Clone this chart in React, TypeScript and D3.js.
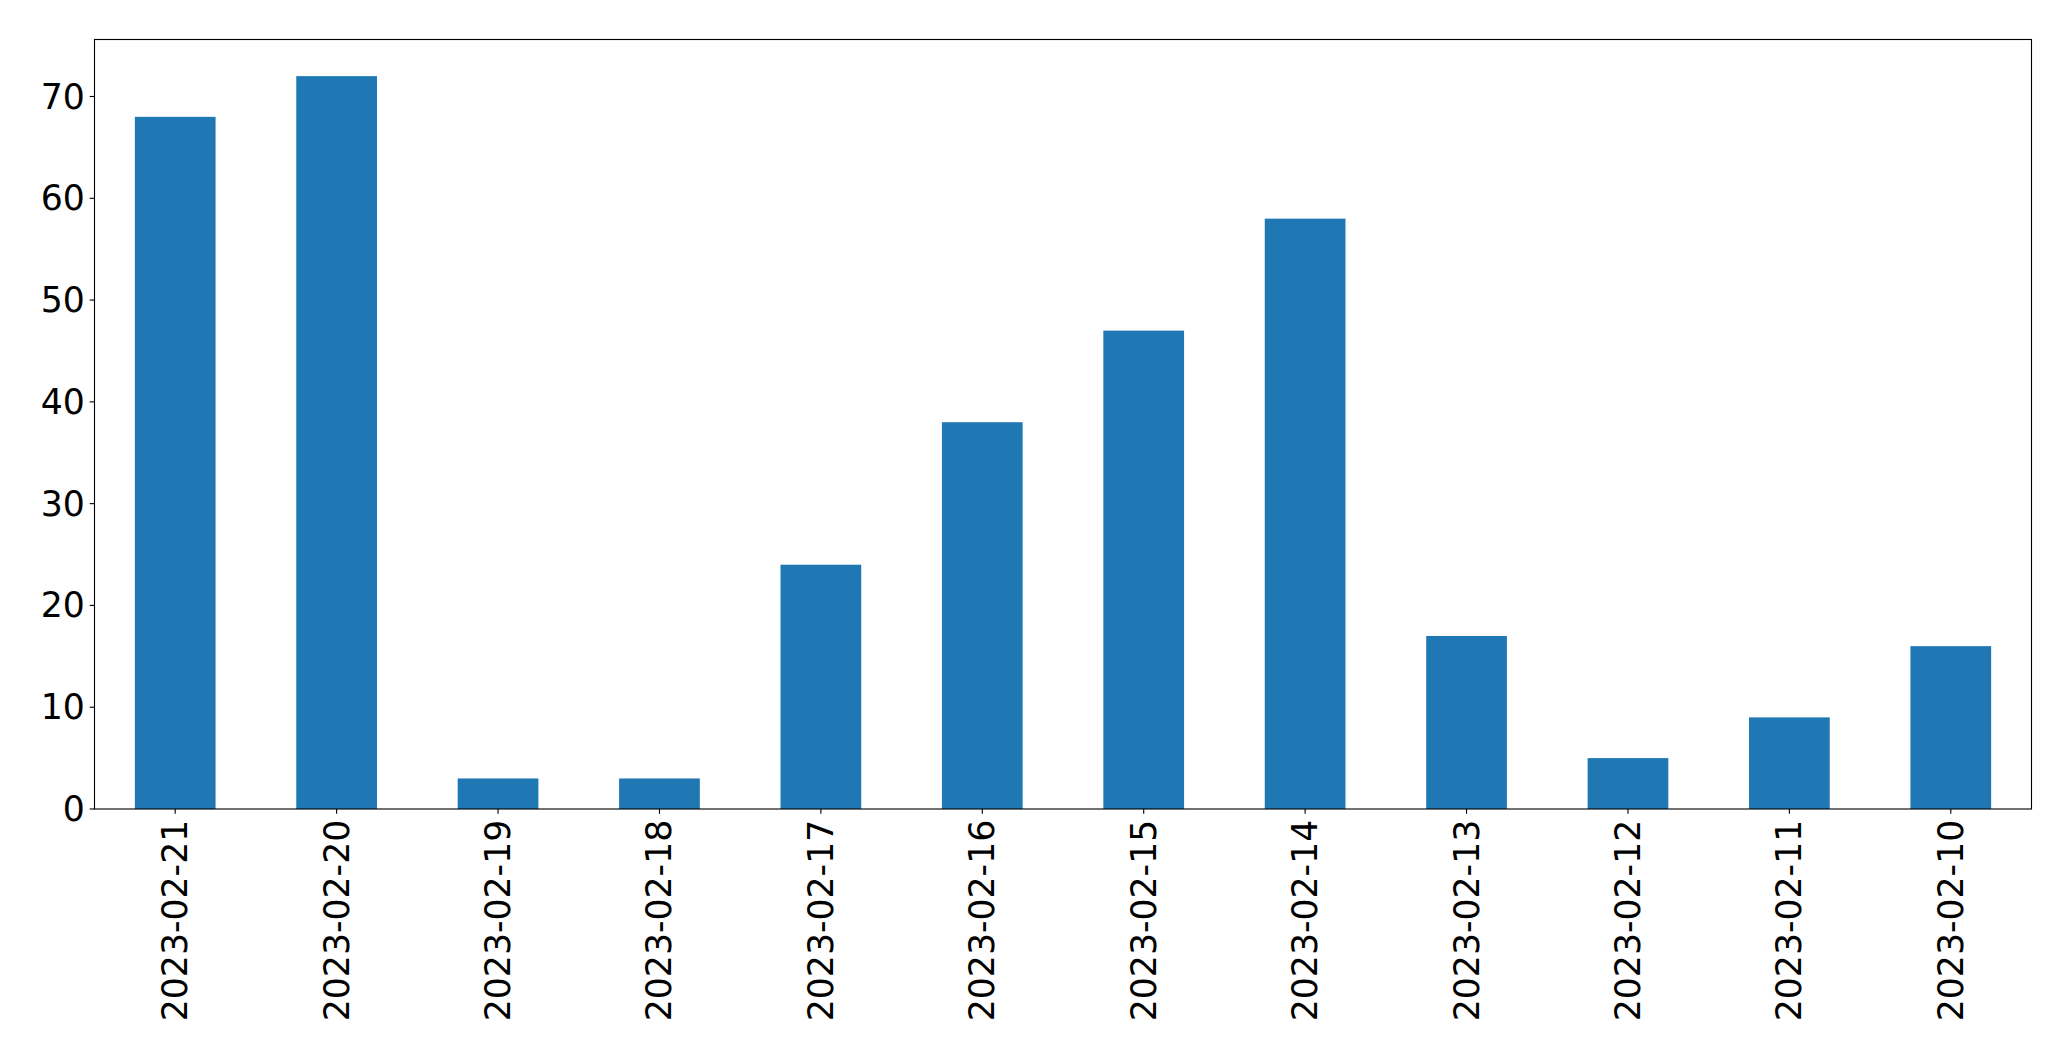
import React from "react";
import * as d3 from "d3";

const categories = [
  "2023-02-21", "2023-02-20", "2023-02-19", "2023-02-18", "2023-02-17", "2023-02-16",
  "2023-02-15", "2023-02-14", "2023-02-13", "2023-02-12", "2023-02-11", "2023-02-10",
];
const values = [68, 72, 3, 3, 24, 38, 47, 58, 17, 5, 9, 16];
const yTicks = [0, 10, 20, 30, 40, 50, 60, 70];

const W = 2071;
const H = 1061;
const left = 94.5;
const right = 2031.5;
const top = 39.5;
const bottom = 809;
const fontSize = 34.7;
const tickLen = 4.86;
const pad = 4.86;

export default function App() {
  const n = categories.length;
  const x = d3.scaleLinear().domain([-0.5, n - 0.5]).range([left, right]);
  const yMax = d3.max(values)! * 1.05;
  const y = d3.scaleLinear().domain([0, yMax]).range([bottom, top]);
  const bw = x(0.25) - x(-0.25);

  return (
    <svg
      width={W}
      height={H}
      style={{ position: "absolute", left: 0, top: 0, background: "#fff" }}
      fontFamily="DejaVu Sans"
    >
      <rect x={0} y={0} width={W} height={H} fill="#fff" />
      {values.map((v, i) => (
        <rect
          key={i}
          x={x(i) - bw / 2}
          y={y(v)}
          width={bw}
          height={y(0) - y(v)}
          fill="#1f77b4"
        />
      ))}
      {yTicks.map((t) => (
        <g key={t}>
          <line x1={left - tickLen} x2={left} y1={y(t)} y2={y(t)} stroke="#000" strokeWidth={1.11} />
          <text
            x={left - tickLen - pad}
            y={y(t)}
            textAnchor="end"
            dominantBaseline="central"
            fontSize={fontSize}
            fill="#000"
          >
            {t}
          </text>
        </g>
      ))}
      {categories.map((c, i) => (
        <g key={c}>
          <line x1={x(i)} x2={x(i)} y1={bottom} y2={bottom + tickLen} stroke="#000" strokeWidth={1.11} />
          <text
            transform={`translate(${x(i)},${bottom + tickLen + pad + 1}) rotate(-90)`}
            textAnchor="end"
            dominantBaseline="central"
            fontSize={fontSize}
            fill="#000"
          >
            {c}
          </text>
        </g>
      ))}
      <rect
        x={left}
        y={top}
        width={right - left}
        height={bottom - top}
        fill="none"
        stroke="#000"
        strokeWidth={1.11}
      />
    </svg>
  );
}
